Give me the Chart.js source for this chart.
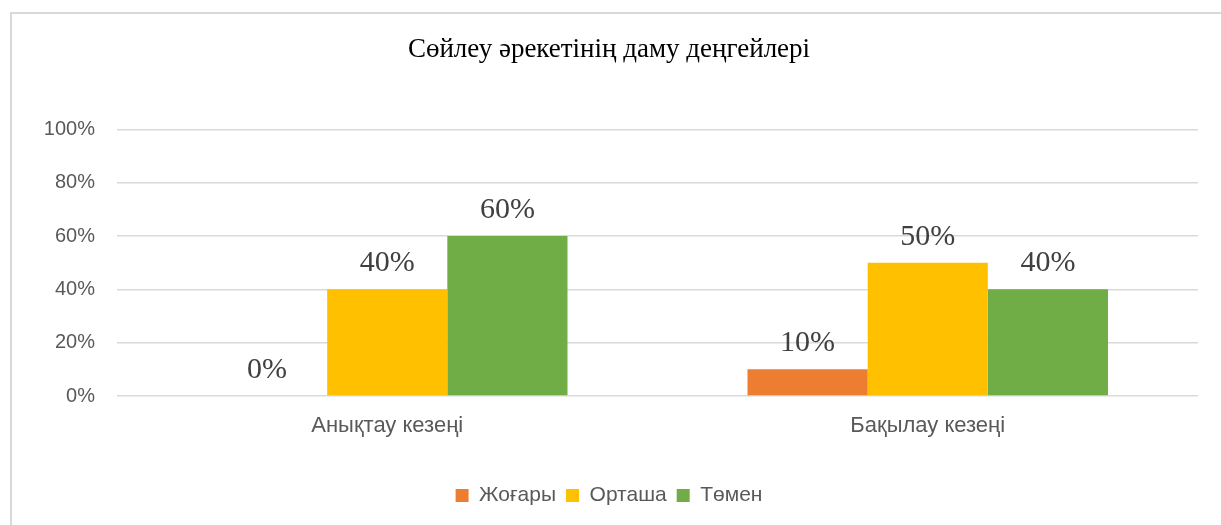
<!DOCTYPE html>
<html>
<head>
<meta charset="utf-8">
<script src="https://cdn.jsdelivr.net/npm/chart.js@4/dist/chart.umd.min.js"></script>
<style>
  html, body { margin: 0; padding: 0; background: #fff; }
  #wrap { width: 1221px; height: 525px; position: relative; }
</style>
</head>
<body>
<div id="wrap"><canvas id="myChart" width="1221" height="525"></canvas></div>
<script>
var categories = ['Анықтау кезеңі', 'Бақылау кезеңі'];
var seriesNames = ['Жоғары', 'Орташа', 'Төмен'];
var zhogary = [0, 10];
var ortasha = [40, 50];
var tomen = [60, 40];
var yTicks = [0, 20, 40, 60, 80, 100];

// frame around the chart, like the office chart border
var framePlugin = {
    id: 'frame',
    beforeDraw: function (chart) {
        var c = chart.ctx;
        c.save();
        c.fillStyle = '#fff';
        c.fillRect(0, 0, chart.width, chart.height);
        c.strokeStyle = '#d9d9d9';
        c.lineWidth = 2;
        c.beginPath();
        c.moveTo(11, chart.height);
        c.lineTo(11, 13);
        c.lineTo(chart.width, 13);
        c.stroke();
        c.restore();
    }
};

// value labels above each bar
var labelPlugin = {
    id: 'valueLabels',
    afterDatasetsDraw: function (chart) {
        var c = chart.ctx;
        c.save();
        c.font = '30px "Liberation Serif", "Times New Roman", serif';
        c.fillStyle = '#404040';
        c.textAlign = 'center';
        c.textBaseline = 'alphabetic';
        chart.data.datasets.forEach(function (ds, i) {
            chart.getDatasetMeta(i).data.forEach(function (bar, j) {
                c.fillText(ds.data[j] + '%', bar.x, bar.y - 18);
            });
        });
        c.restore();
    }
};

var ctx = document.getElementById('myChart').getContext('2d');
var myChart = new Chart(ctx, {
    type: 'bar',
    data: {
        labels: categories,
        datasets: [{
            label: seriesNames[0],
            data: zhogary,
            backgroundColor: '#ED7D31'},
        {
            label: seriesNames[1],
            data: ortasha,
            backgroundColor: '#FFC000'},
        {
            label: seriesNames[2],
            data: tomen,
            backgroundColor: '#70AD47'}
        ]
    },
    options: {
        responsive: false,
        animation: false,
        layout: {
            padding: { left: 20, right: 23, top: 0, bottom: 9 }
        },
        datasets: {
            bar: { categoryPercentage: 0.667, barPercentage: 1.0 }
        },
        plugins: {
            title: {
                display: true,
                text: 'Сөйлеу әрекетінің даму деңгейлері',
                color: '#000',
                font: { family: '"Liberation Serif", "Times New Roman", serif', size: 27, weight: 'normal' },
                padding: { top: 34, bottom: 63 }
            },
            legend: {
                position: 'bottom',
                labels: {
                    color: '#595959',
                    font: { family: '"Liberation Sans", Arial, sans-serif', size: 21 },
                    boxWidth: 13,
                    boxHeight: 13,
                    padding: 10
                }
            },
            tooltip: { enabled: false }
        },
        scales: {
            x: {
                grid: { display: false, drawTicks: false },
                border: { display: false },
                ticks: {
                    color: '#595959',
                    font: { family: '"Liberation Sans", Arial, sans-serif', size: 22 },
                    padding: 17
                },
                afterFit: function (scale) { scale.height = 79; }
            },
            y: {
                min: 0,
                max: 100,
                afterBuildTicks: function (scale) {
                    scale.ticks = yTicks.map(function (v) { return { value: v }; });
                },
                grid: { color: '#d9d9d9', lineWidth: 1.5, drawTicks: false },
                border: { display: false },
                ticks: {
                    color: '#595959',
                    font: { family: '"Liberation Sans", Arial, sans-serif', size: 20 },
                    padding: 22,
                    callback: function (v) { return v + '%'; }
                },
                afterFit: function (scale) { scale.width = 97; }
            }
        }
    },
    plugins: [framePlugin, labelPlugin]
});
</script>
</body>
</html>
